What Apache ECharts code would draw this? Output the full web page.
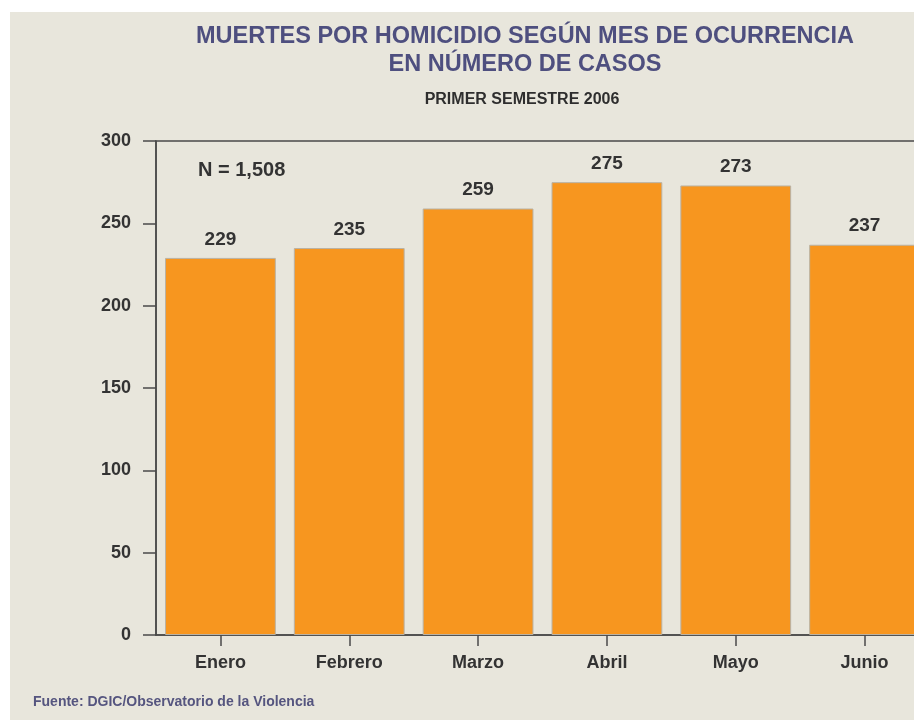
<!DOCTYPE html>
<html>
<head>
<meta charset="utf-8">
<script src="https://cdn.jsdelivr.net/npm/echarts@6/dist/echarts.min.js"></script>
<style>
html,body{margin:0;padding:0;background:#fff;}
#main{width:914px;height:722px;}
</style>
</head>
<body>
<div id="main"></div>
<script>
// datos: muertes por homicidio, primer semestre 2006
var meses = ['Enero', 'Febrero', 'Marzo', 'Abril', 'Mayo', 'Junio'];
var casos = [229, 235, 259, 275, 273, 237];
var yTicks = [0, 50, 100, 150, 200, 250, 300];

var myChart = echarts.init(document.getElementById('main'));

var font = 'Liberation Sans, Arial, sans-serif';
var txt = '#333333';

myChart.setOption({
    animation: false,
    backgroundColor: '#ffffff',
    textStyle: {fontFamily: font},
    graphic: [
        {type: 'rect', z: -10, shape: {x: 10, y: 12, width: 910, height: 708}, style: {fill: '#e8e6dc'}},
        {type: 'text', left: 198, top: 160, style: {text: 'N = 1,508', font: 'bold 20px ' + font, fill: txt}},
        {type: 'text', left: 33, top: 695, style: {text: 'Fuente: DGIC/Observatorio de la Violencia', font: 'bold 14px ' + font, fill: '#55557f'}}
    ],
    title: [
        {
            text: 'MUERTES POR HOMICIDIO SEGÚN MES DE OCURRENCIA\nEN NÚMERO DE CASOS',
            left: 525, top: 22, textAlign: 'center', padding: 0,
            textStyle: {fontSize: 23.5, fontWeight: 'bold', color: '#4e4f7f', lineHeight: 28.5, fontFamily: font}
        },
        {
            text: 'PRIMER SEMESTRE 2006',
            left: 522, top: 92, textAlign: 'center', padding: 0,
            textStyle: {fontSize: 16, fontWeight: 'bold', color: '#2e2e2e', fontFamily: font}
        }
    ],
    grid: {
        left: 156, top: 141, right: -15, bottom: 87,
        outerBoundsMode: 'none', containLabel: false,
        show: true, borderColor: '#4a4a4a', borderWidth: 1.5, backgroundColor: 'transparent'
    },
    xAxis: {
        type: 'category',
        data: meses,
        axisLine: {lineStyle: {color: '#4a4a4a', width: 1.5}},
        axisTick: {show: true, alignWithLabel: true, interval: 0, length: 11, lineStyle: {color: '#4a4a4a', width: 1.5}},
        axisLabel: {margin: 19, fontSize: 18, fontWeight: 'bold', color: txt}
    },
    yAxis: {
        type: 'value',
        min: yTicks[0], max: yTicks[yTicks.length - 1], interval: 50,
        splitLine: {show: false},
        axisLine: {show: true, lineStyle: {color: '#4a4a4a', width: 1.5}},
        axisTick: {show: true, length: 13, lineStyle: {color: '#4a4a4a', width: 1.5}},
        axisLabel: {margin: 25, fontSize: 18, fontWeight: 'bold', color: txt}
    },
    series: [{
        type: 'bar',
        data: casos,
        barCategoryGap: '14%',
        itemStyle: {color: '#f7961f', borderColor: '#b9b2a4', borderWidth: 1},
        label: {show: true, position: 'top', distance: 9, fontSize: 19, fontWeight: 'bold', color: txt}
    }]
});
</script>
</body>
</html>
